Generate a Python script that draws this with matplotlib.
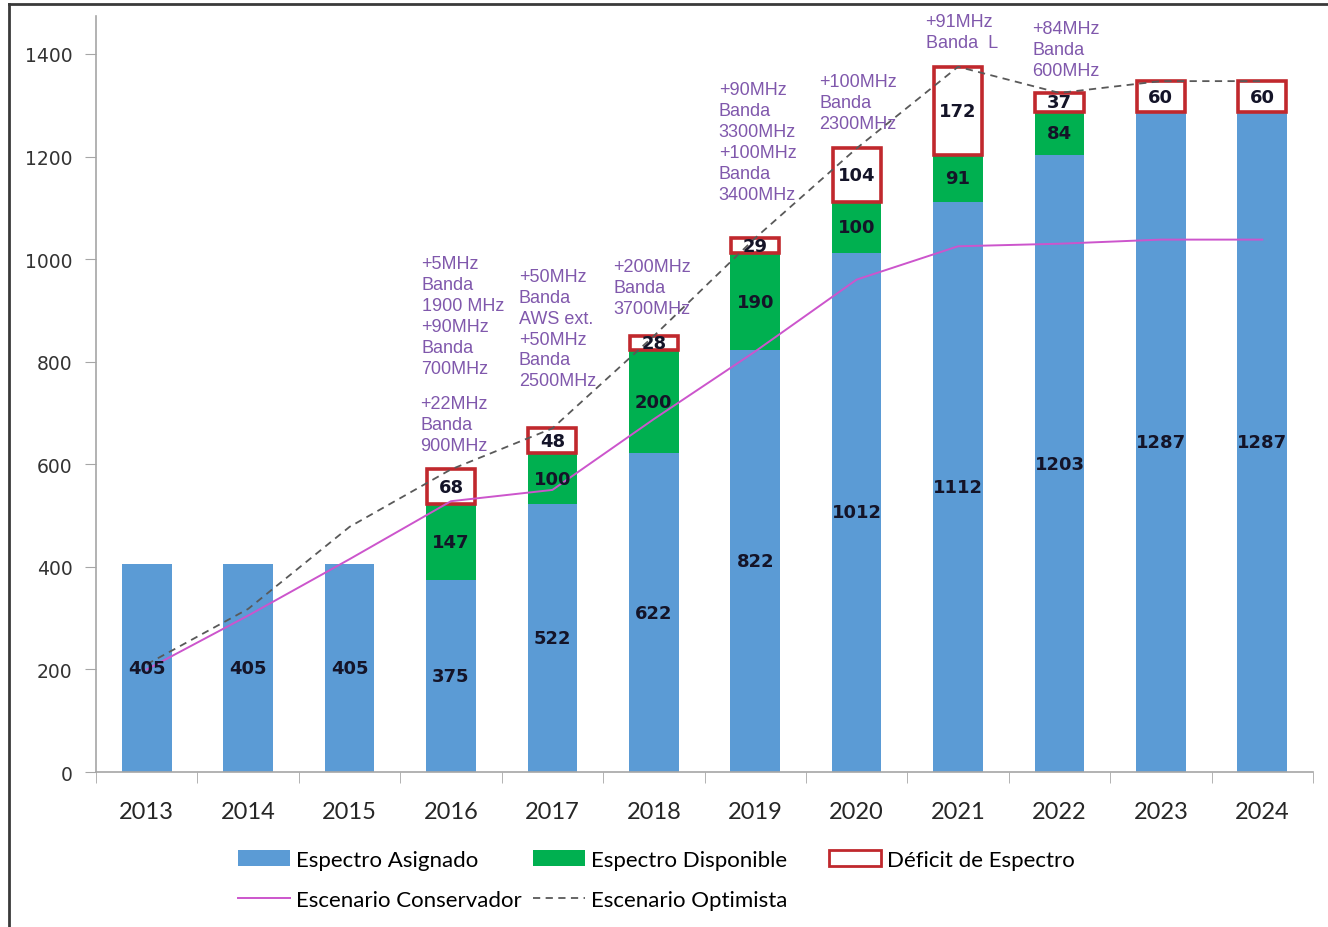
import matplotlib
matplotlib.use("Agg")
import matplotlib.pyplot as plt
import numpy as np
from matplotlib.lines import Line2D
from matplotlib.patches import Patch

years = ["2013", "2014", "2015", "2016", "2017", "2018",
         "2019", "2020", "2021", "2022", "2023", "2024"]
asignado = [405, 405, 405, 375, 522, 622, 822, 1012, 1112, 1203, 1287, 1287]
disponible = [0, 0, 0, 147, 100, 200, 190, 100, 91, 84, 0, 0]
deficit = [0, 0, 0, 68, 48, 28, 29, 104, 172, 37, 60, 60]
conservador = [200, 305, 415, 528, 550, 688, 820, 960, 1025, 1030, 1038, 1038]
optimista = [210, 318, 478, 590, 670, 850, 1041, 1216, 1375, 1324, 1347, 1347]

# band notes: (year index, x offset in categories, top y in data units, text)
notas = [
    (3, -0.29, 1008, "+5MHz\nBanda\n1900 MHz\n+90MHz\nBanda\n700MHz"),
    (3, -0.30, 735, "+22MHz\nBanda\n900MHz"),
    (4, -0.33, 983, "+50MHz\nBanda\nAWS ext.\n+50MHz\nBanda\n2500MHz"),
    (5, -0.40, 1002, "+200MHz\nBanda\n3700MHz"),
    (6, -0.36, 1347, "+90MHz\nBanda\n3300MHz\n+100MHz\nBanda\n3400MHz"),
    (7, -0.37, 1363, "+100MHz\nBanda\n2300MHz"),
    (8, -0.32, 1480, "+91MHz\nBanda  L"),
    (9, -0.27, 1466, "+84MHz\nBanda\n600MHz"),
]

AZUL = "#5B9BD5"
VERDE = "#00B050"
ROJO = "#C0282D"
ROSA = "#CC55CC"
GRIS = "#595959"
MORADO = "#8058AC"
EJE = "#A6A6A6"

fig = plt.figure(figsize=(13.28, 9.28), dpi=100)
ax = fig.add_axes([0.0723, 0.167, 0.9164, 0.8147])

x = np.arange(len(years))
w = 0.49
asig = np.array(asignado)
disp = np.array(disponible)
defi = np.array(deficit)

ax.bar(x, asig, w, color=AZUL, zorder=2)
ax.bar(x, disp, w, bottom=asig, color=VERDE, zorder=2)
mask = defi > 0
ax.bar(x[mask], defi[mask], w * 0.97, bottom=(asig + disp)[mask],
       facecolor="white", edgecolor=ROJO, linewidth=2.6, zorder=3)

ax.plot(x, conservador, color=ROSA, lw=1.4, zorder=4)
ax.plot(x, optimista, color=GRIS, lw=1.3, ls=(0, (4, 3)), zorder=4)

lab = dict(ha="center", va="center", fontsize=13, fontweight="bold",
           color="#141428", zorder=5)
for i in range(len(years)):
    ax.text(x[i], asig[i] / 2, f"{asig[i]}", **lab)
    if disp[i]:
        ax.text(x[i], asig[i] + disp[i] / 2, f"{disp[i]}", **lab)
    if defi[i]:
        ax.text(x[i], asig[i] + disp[i] + defi[i] / 2, f"{defi[i]}", **lab)

for i, dx, ytop, txt in notas:
    ax.text(x[i] + dx, ytop, txt, ha="left", va="top", fontsize=13,
            family="Liberation Sans", color=MORADO, linespacing=1.3,
            zorder=1, clip_on=False)

ax.set_xlim(-0.5, len(years) - 0.5)
ax.set_ylim(0, 1474)
ax.set_yticks(range(0, 1401, 200))
ax.tick_params(axis="y", length=8, color=EJE, labelsize=13.5,
               labelcolor="#333333", pad=9)
ax.set_xticks(x)
ax.set_xticklabels(years, fontsize=17, family="Lato", color="#262626")
ax.set_xticks(np.arange(len(years) + 1) - 0.5, minor=True)
ax.tick_params(axis="x", which="major", length=0, pad=21)
ax.tick_params(axis="x", which="minor", length=8, color=EJE)
for s in ("top", "right"):
    ax.spines[s].set_visible(False)
for s in ("left", "bottom"):
    ax.spines[s].set_color(EJE)
    ax.spines[s].set_linewidth(1.2)

# legend drawn as three columns placed like the original
columnas = [
    (238, [Patch(facecolor=AZUL, label="Espectro Asignado"),
           Line2D([], [], color=ROSA, lw=1.4, label="Escenario Conservador")]),
    (533, [Patch(facecolor=VERDE, label="Espectro Disponible"),
           Line2D([], [], color=GRIS, lw=1.3, ls=(0, (4, 3)),
                  label="Escenario Optimista")]),
    (829, [Patch(facecolor="white", edgecolor=ROJO, lw=2,
                 label="Déficit de Espectro")]),
]
for px, hs in columnas:
    fig.legend(handles=hs, loc="upper left",
               bbox_to_anchor=(px / 1328, 1 - 851 / 928), frameon=False,
               prop={"family": "Lato", "size": 16}, handlelength=2.35,
               handleheight=0.75, handletextpad=0.25, labelspacing=0.9,
               borderaxespad=0, borderpad=0)

# thin frame of the original picture (top and left edges)
fig.add_artist(Line2D([9 / 1328, 1], [1 - 5 / 928, 1 - 5 / 928],
                      transform=fig.transFigure, color="#3a3a3a", lw=2))
fig.add_artist(Line2D([9 / 1328, 9 / 1328], [0, 1 - 5 / 928],
                      transform=fig.transFigure, color="#3a3a3a", lw=2))

fig.savefig("out.png", dpi=100)
